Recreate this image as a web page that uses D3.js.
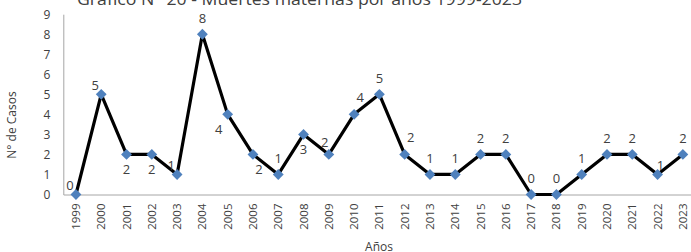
<!DOCTYPE html>
<html><head><meta charset="utf-8">
<script src="https://cdn.jsdelivr.net/npm/d3@7"></script>
<style>
html,body{margin:0;padding:0;background:#fff;overflow:hidden;}
text{font-family:"Open Sans","Noto Sans",sans-serif;}
</style></head>
<body>
<svg id="c" width="691" height="252"></svg>
<script>
const years = ["1999","2000","2001","2002","2003","2004","2005","2006","2007","2008","2009","2010","2011","2012","2013","2014","2015","2016","2017","2018","2019","2020","2021","2022","2023"];
const deaths = [0,5,2,2,1,8,4,2,1,3,2,4,5,2,1,1,2,2,0,0,1,2,2,1,2];
const labelPlacement = ["l","l","b","b","l","t","bl","br","t","b","tl","tr","t","tr","t","t","t","t","t","t","t","t","t","r","t"];
const yTicks = [0,1,2,3,4,5,6,7,8,9];
const chartTitle = "Gráfico N° 20 - Muertes maternas por años 1999-2023";

const offsets = {t:[0,-16], b:[0,15], l:[-6,-9], tl:[-4,-12], tr:[6,-17], bl:[-9,15], br:[6,15], r:[3,-9]};

const svg = d3.select("#c");
const mLeft = 63.3, mRight = 695.5, mTop = 14.2, mBottom = 194.5;

const x = d3.scaleBand().domain(years).range([mLeft, mRight]).padding(0);
const y = d3.scaleLinear().domain([0, 9]).range([mBottom, mTop]);

// title
svg.append("text").attr("x", 299.5).attr("y", 5)
  .attr("text-anchor","middle").attr("font-size", 16).attr("fill","#404040")
  .attr("textLength", 445).attr("lengthAdjust","spacingAndGlyphs")
  .text(chartTitle);

// y axis
const yAxis = svg.append("g").attr("transform", `translate(${mLeft},0)`)
  .call(d3.axisLeft(y).tickValues(yTicks).tickSize(0).tickPadding(13));
yAxis.select(".domain").attr("stroke","#a6a6a6").attr("stroke-width",1);
yAxis.selectAll("text").attr("font-size", 12).attr("fill","#404040").attr("font-family",'"Open Sans","Noto Sans",sans-serif');

// x axis
const xAxis = svg.append("g").attr("transform", `translate(0,${mBottom})`)
  .call(d3.axisBottom(x).tickSize(0));
xAxis.select(".domain").attr("stroke","#a6a6a6").attr("stroke-width",1);
xAxis.selectAll("text")
  .attr("font-size", 11.5).attr("fill","#404040").attr("font-family",'"Open Sans","Noto Sans",sans-serif')
  .attr("text-anchor","end").attr("dy","0.35em")
  .attr("transform","translate(0,9) rotate(-90)")
  .attr("x",0).attr("y",0);

// axis titles
svg.append("text").attr("x", 379).attr("y", 251)
  .attr("text-anchor","middle").attr("font-size", 12).attr("fill","#404040").text("Años");
svg.append("text").attr("transform","translate(16,125) rotate(-90)")
  .attr("text-anchor","middle").attr("font-size", 12).attr("fill","#404040").text("N° de Casos");

const cx = d => x(d) + x.bandwidth()/2;
const pts = years.map((yr,i)=>({yr, v:deaths[i], p:labelPlacement[i]}));

// line
svg.append("path").datum(pts)
  .attr("fill","none").attr("stroke","#000").attr("stroke-width",3.2).attr("stroke-linejoin","round")
  .attr("d", d3.line().x(d=>cx(d.yr)).y(d=>y(d.v)));

// markers
svg.append("g").selectAll("path").data(pts).join("path")
  .attr("transform", d=>`translate(${cx(d.yr)},${y(d.v)})`)
  .attr("d", d3.symbol().type(d3.symbolDiamond2).size(75))
  .attr("fill","#4f81bd");

// labels
svg.append("g").selectAll("text").data(pts).join("text")
  .attr("x", d=>cx(d.yr) + offsets[d.p][0])
  .attr("y", d=>y(d.v) + offsets[d.p][1])
  .attr("dy","0.35em").attr("text-anchor","middle")
  .attr("font-size", 13).attr("fill","#404040")
  .text(d=>d.v);
</script>
</body></html>
